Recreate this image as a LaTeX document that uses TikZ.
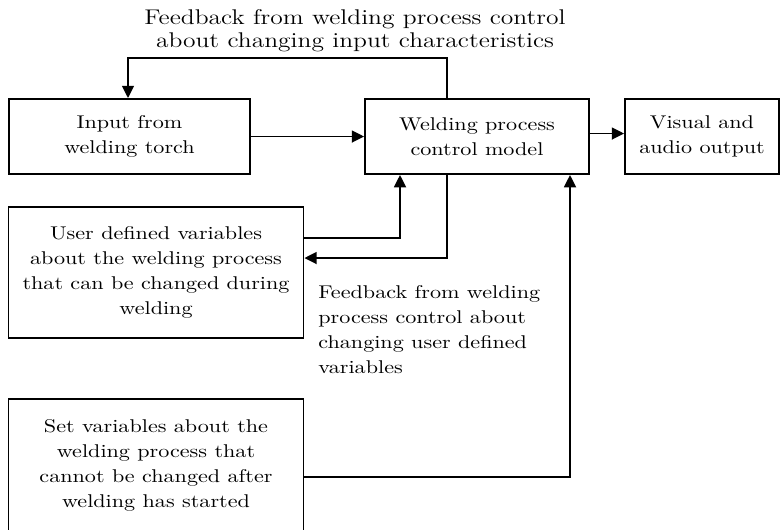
\documentclass[tikz,border=0pt]{standalone}
\usepackage{fontspec}
\setmainfont{Latin Modern Roman}[FakeStretch=1.2]
\usetikzlibrary{arrows.meta}

\begin{document}
\begin{tikzpicture}[x=0.02cm,y=-0.02cm,
  box/.style={draw, line width=1.1pt, rectangle, inner sep=0pt, align=center,
    font=\fontsize{10.5}{14.2}\selectfont},
  link/.style={line width=1.1pt, -{Triangle[length=7pt,width=6.8pt]}},
  lbl/.style={font=\fontsize{10.5}{14.2}\selectfont, align=left, inner sep=0pt},
  heading/.style={font=\fontsize{12.1}{13.1}\selectfont, align=center, inner sep=0pt}]
\useasboundingbox (0,0) rectangle (780,529);
\begin{scope}
\clip (0,0) rectangle (780,529);

% blocks
\node[box, minimum width=4.82cm, minimum height=1.5cm] (in) at (129.5,136.5)
  {Input from\\welding torch};
\node[box, minimum width=4.48cm, minimum height=1.5cm] (ctrl) at (477,136.5)
  {Welding process\\control model};
\node[box, minimum width=3.08cm, minimum height=1.5cm] (out) at (702,136.5)
  {Visual and\\audio output};
\node[box, minimum width=5.9cm, minimum height=2.62cm] (user) at (156,272.5)
  {User defined variables\\about the welding process\\that can be changed during\\welding};
\node[box, minimum width=5.9cm, minimum height=2.64cm] (set) at (156,465)
  {Set variables about the\\welding process that\\cannot be changed after\\welding has started};

% labels
\node[heading] (fbtitle) at (355,31)
  {Feedback from welding process control\\about changing input characteristics};
\node[lbl, anchor=west] (fbuser) at (318,330)
  {Feedback from welding\\process control about\\changing user defined\\variables};

% routing points
\coordinate (fbL) at (128,58);
\coordinate (fbR) at (447,58);
\coordinate (uc) at (400,238);
\coordinate (cu) at (447,258);
\coordinate (sc) at (570,477);

% connectors
\draw[link] (in.east) -- (in.east -| ctrl.west);
\draw[link] ([yshift=0.06cm]ctrl.east) -- ([yshift=0.06cm]ctrl.east -| out.west);
\draw[link] (fbR |- ctrl.north) -- (fbR) -- (fbL) -- (fbL |- in.north);
\draw[link] (user.east |- uc) -- (uc) -- (uc |- ctrl.south);
\draw[link] (cu |- ctrl.south) -- (cu) -- (cu -| user.east);
\draw[link] (set.east |- sc) -- (sc) -- (sc |- ctrl.south);
\end{scope}
\end{tikzpicture}
\end{document}
